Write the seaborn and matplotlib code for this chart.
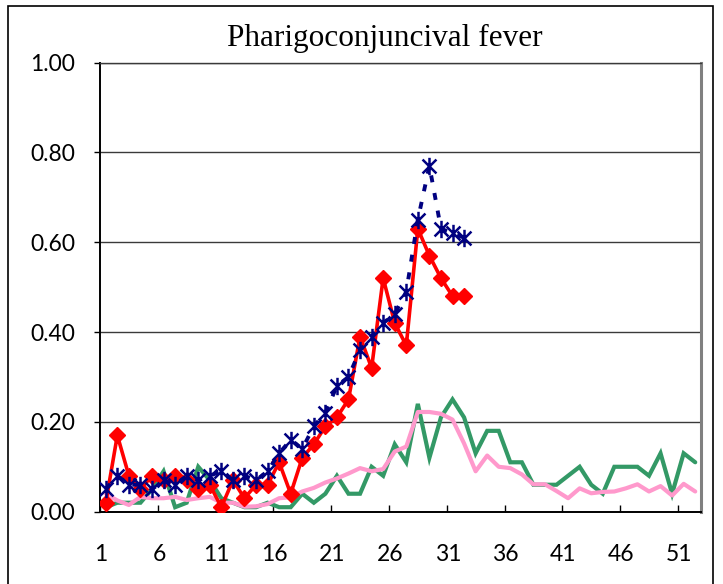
import matplotlib
matplotlib.use("Agg")
import matplotlib.pyplot as plt
import seaborn as sns
import pandas as pd
from matplotlib.path import Path
from matplotlib.patches import Rectangle

# ---------------- data ----------------
title = "Pharigoconjuncival fever"
weeks_all = list(range(1, 53))
weeks_cur = list(range(1, 33))

red_values = [0.02, 0.17, 0.08, 0.05, 0.08, 0.07, 0.08, 0.07, 0.05, 0.06,
              0.01, 0.07, 0.03, 0.06, 0.06, 0.11, 0.04, 0.12, 0.15, 0.19,
              0.21, 0.25, 0.39, 0.32, 0.52, 0.42, 0.37, 0.63, 0.57, 0.52,
              0.48, 0.48]
blue_values = [0.05, 0.08, 0.06, 0.06, 0.05, 0.07, 0.06, 0.08, 0.07, 0.08,
               0.09, 0.07, 0.08, 0.07, 0.09, 0.13, 0.16, 0.14, 0.19, 0.22,
               0.28, 0.30, 0.36, 0.39, 0.42, 0.44, 0.49, 0.65, 0.77, 0.63,
               0.62, 0.61]
green_values = [0.01, 0.02, 0.02, 0.02, 0.05, 0.09, 0.01, 0.02, 0.10, 0.07,
                0.03, 0.02, 0.01, 0.01, 0.02, 0.01, 0.01, 0.04, 0.02, 0.04,
                0.08, 0.04, 0.04, 0.10, 0.08, 0.15, 0.11, 0.24, 0.12, 0.21,
                0.25, 0.21, 0.13, 0.18, 0.18, 0.11, 0.11, 0.06, 0.06, 0.06,
                0.08, 0.10, 0.06, 0.04, 0.10, 0.10, 0.10, 0.08, 0.13, 0.04,
                0.13, 0.11]
pink_values = [0.040, 0.025, 0.015, 0.033, 0.030, 0.030, 0.033, 0.026, 0.030, 0.033,
               0.020, 0.020, 0.011, 0.012, 0.017, 0.030, 0.032, 0.045, 0.053, 0.065,
               0.074, 0.085, 0.097, 0.090, 0.095, 0.134, 0.145, 0.222, 0.222, 0.218,
               0.205, 0.152, 0.090, 0.125, 0.100, 0.097, 0.083, 0.061, 0.061, 0.046,
               0.030, 0.052, 0.041, 0.044, 0.045, 0.052, 0.061, 0.045, 0.057, 0.036,
               0.062, 0.045]

y_ticks = [0.0, 0.2, 0.4, 0.6, 0.8, 1.0]
y_tick_labels = ["0.00", "0.20", "0.40", "0.60", "0.80", "1.00"]
x_label_weeks = [1, 6, 11, 16, 21, 26, 31, 36, 41, 46, 51]
x_tick_labels = [str(w) for w in x_label_weeks]

df_red = pd.DataFrame({"week": weeks_cur, "value": red_values})
df_blue = pd.DataFrame({"week": weeks_cur, "value": blue_values})
df_green = pd.DataFrame({"week": weeks_all, "value": green_values})
df_pink = pd.DataFrame({"week": weeks_all, "value": pink_values})

# ---------------- style ----------------
sns.set_theme(style="white")
plt.rcParams["font.family"] = ["Lato", "DejaVu Sans"]

W, H = 723, 584
fig = plt.figure(figsize=(W / 100, H / 100), dpi=100)
ax = fig.add_axes([100 / W, 1 - 511.7 / H, 601 / W, (511.7 - 62.5) / H])

NAVY = "#000080"
RED = "#FF0000"
GREEN = "#339966"
PINK = "#FF99CC"

star = Path([(-1, -1), (1, 1), (-1, 1), (1, -1), (0, -1.25), (0, 1.25)],
            [Path.MOVETO, Path.LINETO, Path.MOVETO, Path.LINETO, Path.MOVETO, Path.LINETO])

sns.lineplot(data=df_green, x="week", y="value", color=GREEN, lw=3.0, ax=ax,
             solid_joinstyle="miter", zorder=3)
sns.lineplot(data=df_pink, x="week", y="value", color=PINK, lw=3.0, ax=ax, zorder=3)
sns.lineplot(data=df_red, x="week", y="value", color=RED, lw=2.6, ax=ax,
             marker="D", markersize=8.5, markeredgewidth=1, markeredgecolor=RED,
             markerfacecolor=RED, zorder=4)
sns.lineplot(data=df_blue, x="week", y="value", color=NAVY, lw=2.8, ax=ax,
             linestyle=(0, (1.8, 2.8)), marker=star, markersize=12.5,
             markeredgewidth=1.8, markeredgecolor=NAVY, markerfacecolor="none",
             zorder=5)

ax.set_xlim(0.5, 52.5)
ax.set_ylim(0, 1.0)
ax.set_xlabel("")
ax.set_ylabel("")

# y axis
ax.set_yticks(y_ticks)
ax.set_yticklabels(y_tick_labels)
ax.yaxis.grid(True, color="#3a3a3a", lw=1.0)
ax.xaxis.grid(False)
ax.set_axisbelow(True)
ax.tick_params(axis="y", which="major", direction="out", length=4, width=1,
               color="black", left=True, pad=14, labelsize=16.5, labelcolor="black")

# x axis: tick marks at category boundaries, labels centred on categories
ax.set_xticks([0.5 + 5 * k for k in range(11)])
ax.set_xticklabels([])
ax.set_xticks([w - 0.4 for w in x_label_weeks], minor=True)
ax.set_xticklabels(x_tick_labels, minor=True)
ax.tick_params(axis="x", which="major", direction="in", length=5, width=1,
               color="black", bottom=True)
ax.tick_params(axis="x", which="minor", length=0, pad=23, labelsize=16.5,
               labelcolor="black", bottom=True)

for side in ["left", "bottom"]:
    ax.spines[side].set_color("black")
    ax.spines[side].set_linewidth(1.4)
ax.spines["top"].set_color("#3a3a3a")
ax.spines["top"].set_linewidth(1.0)
ax.spines["right"].set_color("#808080")
ax.spines["right"].set_linewidth(2.2)

fig.text(385 / W, 1 - 38 / H, title, ha="center", va="center",
         family=["Liberation Serif", "DejaVu Serif"], fontsize=22.5, color="black")

border = Rectangle((8 / W, -0.05), (713 - 8) / W, 1.05 - 5.5 / H,
                   transform=fig.transFigure, fill=False, ec="black", lw=1.2,
                   clip_on=False)
fig.add_artist(border)

fig.savefig("out.png", dpi=100, facecolor="white")
